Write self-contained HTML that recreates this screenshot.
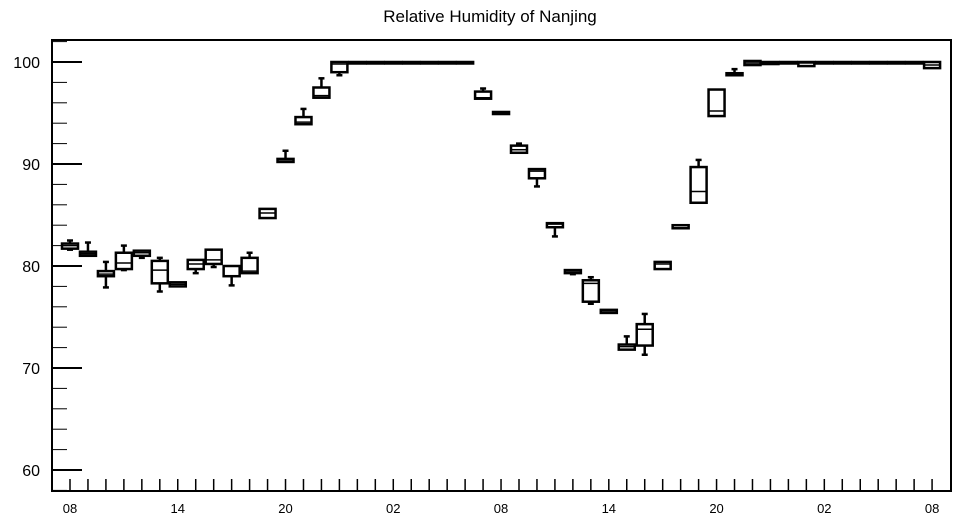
<!DOCTYPE html>
<html><head><meta charset="utf-8"><style>
body{margin:0;background:#fff;}
svg{display:block;font-family:"Liberation Sans",sans-serif;}
</style></head><body>
<svg id="chart" width="957" height="520" viewBox="0 0 957 520">
<text x="490" y="22" font-size="17" text-anchor="middle">Relative Humidity of Nanjing</text>
<rect x="52" y="40" width="899" height="451" fill="none" stroke="#000" stroke-width="2"/>
<g id="axes"></g>
<g id="boxes"></g>
</svg>
<script>
const hours=[0,1,2,3,4,5,6,7,8,9,10,11,12,13,14,15,16,17,18,19,20,21,22,23,24,25,26,27,28,29,30,31,32,33,34,35,36,37,38,39,40,41,42,43,44,45,46,47,48];
const q1=[81.7,81.0,79.0,79.7,81.0,78.3,78.0,79.7,80.2,79.0,79.3,84.7,90.2,93.9,96.5,99.0,100,100,100,100,100,100,100,96.4,94.9,91.1,88.6,83.8,79.3,76.5,75.4,71.8,72.2,79.7,83.7,86.2,94.7,98.7,99.7,99.8,100,99.6,100,100,100,100,100,99.9,99.4];
const med=[82.0,81.2,79.2,80.3,81.3,79.6,78.2,80.2,80.6,80.0,79.5,85.2,90.3,94.1,96.7,99.8,100,100,100,100,100,100,100,96.5,95.0,91.4,89.3,84.1,79.5,78.3,75.6,72.1,73.8,80.2,84.0,87.3,95.2,98.8,99.9,99.9,100,99.9,100,100,100,100,100,100,99.7];
const q3=[82.2,81.4,79.5,81.3,81.5,80.5,78.4,80.6,81.6,80.0,80.8,85.6,90.5,94.6,97.5,100,100,100,100,100,100,100,100,97.1,95.1,91.8,89.5,84.2,79.6,78.6,75.7,72.3,74.3,80.4,84.0,89.7,97.3,98.9,100.1,100,100,100,100,100,100,100,100,100,100];
const wlo=[81.6,81.0,77.9,79.6,80.8,77.5,78.0,79.3,79.9,78.1,79.3,84.7,90.2,93.9,96.5,98.7,100,100,100,100,100,100,100,96.4,94.9,91.1,87.8,82.9,79.2,76.3,75.4,71.8,71.3,79.7,83.7,86.2,94.7,98.7,99.7,99.8,100,99.6,100,100,100,100,100,99.9,99.4];
const whi=[82.5,82.3,80.4,82.0,81.5,80.8,78.4,80.6,81.6,80.0,81.3,85.6,91.3,95.4,98.4,100,100,100,100,100,100,100,100,97.4,95.1,92.0,89.5,84.2,79.6,78.9,75.7,73.1,75.3,80.4,84.0,90.4,97.3,99.3,100.1,100,100,100,100,100,100,100,100,100,100];
const yTicks=[60,70,80,90,100];
const xLabels=["08","14","20","02","08","14","20","02","08"];
const X=h=>70+h*17.96;
const Y=v=>62+(100-v)*10.2;
const NS="http://www.w3.org/2000/svg";
const ax=document.getElementById('axes'),bx=document.getElementById('boxes');
function mk(p,tag,a){const e=document.createElementNS(NS,tag);for(const k in a)e.setAttribute(k,a[k]);p.appendChild(e);return e;}
for(let v=58;v<=102;v+=2){
 const major=v%10===0;
 const t=mk(ax,'line',{x1:52,x2:major?82:67,y1:Y(v),y2:Y(v),stroke:'#000','stroke-width':major?2:1});
 
 
}
yTicks.forEach(v=>{
 const t=mk(ax,'text',{x:40,y:Y(v)+6,'font-size':16,'text-anchor':'end'});t.textContent=v;
 
 
});
for(let h=0;h<=48;h++){
 const t=mk(ax,'line',{x1:X(h),x2:X(h),y1:491,y2:479,stroke:'#000','stroke-width':1.5});
 
 
}
xLabels.forEach((l,i)=>{
 const t=mk(ax,'text',{x:X(i*6),y:513,'font-size':13,'text-anchor':'middle'});t.textContent=l;
 
 
});
hours.forEach((h,i)=>{
 const g=mk(bx,'g',{stroke:'#000','stroke-width':2.5,fill:'none'});
 
 
 const x=X(h),w=16;
 mk(g,'line',{x1:x,x2:x,y1:Y(whi[i]),y2:Y(q3[i])});
 mk(g,'line',{x1:x,x2:x,y1:Y(q1[i]),y2:Y(wlo[i])});
 if(whi[i]>q3[i])mk(g,'line',{x1:x-3,x2:x+3,y1:Y(whi[i]),y2:Y(whi[i])});
 if(wlo[i]<q1[i])mk(g,'line',{x1:x-3,x2:x+3,y1:Y(wlo[i]),y2:Y(wlo[i])});
 const yt=Y(q3[i]),yb=Y(q1[i]);
 mk(g,'rect',{x:x-w/2,y:yt,width:w,height:Math.max(yb-yt,1.5)});
 mk(g,'line',{x1:x-w/2,x2:x+w/2,y1:Y(med[i]),y2:Y(med[i]),'stroke-width':1.5});
});
</script>
</body></html>
